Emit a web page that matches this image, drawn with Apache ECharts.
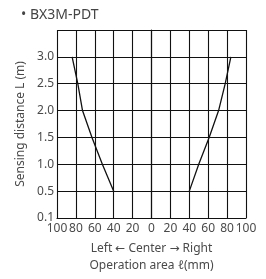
<!DOCTYPE html>
<html>
<head>
<meta charset="utf-8">
<script src="https://cdn.jsdelivr.net/npm/echarts@6/dist/echarts.min.js"></script>
<style>
  html, body { margin: 0; padding: 0; background: #fff; }
  #chart { width: 266px; height: 279px; }
</style>
</head>
<body>
<div id="chart"></div>
<script>
// distances (m) and operation area (mm)
const distances = [0.5, 1.0, 1.5, 2.0, 2.5, 3.0];
const leftEdge = [-40, -52, -63, -73, -78, -84];
const rightEdge = [40, 50, 61, 71, 78, 84];
const yTickLabels = ['0.1', '0.5', '1.0', '1.5', '2.0', '2.5', '3.0', ''];

const font = '"Noto Sans", sans-serif';
const txt = '#4a4a4a';

function pairs(xs) {
    return xs.map((x, i) => [x, distances[i]]);
}

const chart = echarts.init(document.getElementById('chart'));
chart.setOption({
    animation: false,
    title: {
        text: '• BX3M-PDT',
        left: 16,
        top: 3,
        textStyle: { fontFamily: font, fontSize: 14, fontWeight: 'normal', color: '#444' }
    },
    grid: { left: 57, right: 20, top: 30, bottom: 60 },
    xAxis: {
        type: 'value',
        min: -100,
        max: 100,
        interval: 20,
        name: 'Left {a|←} Center {a|→} Right\nOperation area ℓ(mm)',
        nameLocation: 'middle',
        nameGap: 22,
        nameTextStyle: {
            fontFamily: font, fontSize: 12, color: txt, lineHeight: 17, verticalAlign: 'top',
            rich: { a: { fontFamily: '"DejaVu Sans"', fontSize: 12, color: txt, lineHeight: 17 } }
        },
        axisLine: { show: true, lineStyle: { color: '#111', width: 1.2 } },
        axisTick: { show: false },
        axisLabel: {
            fontFamily: font, fontSize: 12, color: txt, margin: 5,
            formatter: v => String(Math.abs(v))
        },
        splitLine: { show: true, lineStyle: { color: '#111', width: 1.1 } }
    },
    yAxis: {
        type: 'value',
        min: 0,
        max: 3.5,
        interval: 0.5,
        name: 'Sensing distance L (m)',
        nameLocation: 'middle',
        nameGap: 28,
        nameTextStyle: { fontFamily: font, fontSize: 12, color: txt },
        axisLine: { show: true, lineStyle: { color: '#111', width: 1.2 } },
        axisTick: { show: false },
        axisLabel: {
            fontFamily: font, fontSize: 12, color: txt, margin: 3,
            formatter: v => yTickLabels[Math.round(v / 0.5)]
        },
        splitLine: { show: true, lineStyle: { color: '#111', width: 1.1 } }
    },
    series: [
        {
            type: 'line',
            data: pairs(leftEdge),
            symbol: 'none',
            lineStyle: { color: '#111', width: 1.3 }
        },
        {
            type: 'line',
            data: pairs(rightEdge),
            symbol: 'none',
            lineStyle: { color: '#111', width: 1.3 }
        }
    ]
});
</script>
</body>
</html>
